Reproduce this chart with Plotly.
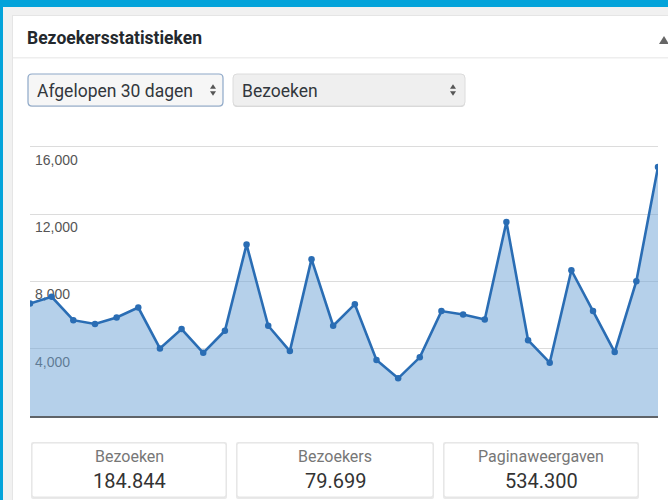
import plotly.graph_objects as go

# ---- data ----
days = list(range(1, 31))
bezoeken = [6690, 7090, 5700, 5470, 5860, 6450, 4020, 5170, 3760, 5070,
            10200, 5370, 3860, 9330, 5370, 6650, 3330, 2240, 3490, 6240,
            6040, 5740, 11540, 4510, 3170, 8670, 6240, 3800, 8020, 14810]
tick_vals = [4000, 8000, 12000, 16000]
tick_text = ["4,000", "8,000", "12,000", "16,000"]
stat_labels = ["Bezoeken", "Bezoekers", "Paginaweergaven"]
stat_values = ["184.844", "79.699", "534.300"]
title_text = "Bezoekersstatistieken"
period_text = "Afgelopen 30 dagen"
metric_text = "Bezoeken"

W, H = 668, 500
Y_MAX = 16100


def X(px):
    return px / W


def Y(py):
    return 1 - py / H


def rect(x0, y0, x1, y1, fill, line=None, lw=0):
    return dict(type="rect", xref="paper", yref="paper",
                x0=X(x0), x1=X(x1), y0=Y(y1), y1=Y(y0),
                fillcolor=fill, line=dict(color=line or fill, width=lw),
                layer="below")


def rrect(x0, y0, x1, y1, r, fill, line, lw=1):
    pts = (f"M{X(x0 + r)},{Y(y0)} L{X(x1 - r)},{Y(y0)} Q{X(x1)},{Y(y0)} {X(x1)},{Y(y0 + r)} "
           f"L{X(x1)},{Y(y1 - r)} Q{X(x1)},{Y(y1)} {X(x1 - r)},{Y(y1)} "
           f"L{X(x0 + r)},{Y(y1)} Q{X(x0)},{Y(y1)} {X(x0)},{Y(y1 - r)} "
           f"L{X(x0)},{Y(y0 + r)} Q{X(x0)},{Y(y0)} {X(x0 + r)},{Y(y0)} Z")
    return dict(type="path", xref="paper", yref="paper", path=pts,
                fillcolor=fill, line=dict(color=line, width=lw), layer="below")


def tri(cx, cy, w, h, up, color):
    if up:
        p = f"M{X(cx - w/2)},{Y(cy + h/2)} L{X(cx + w/2)},{Y(cy + h/2)} L{X(cx)},{Y(cy - h/2)} Z"
    else:
        p = f"M{X(cx - w/2)},{Y(cy - h/2)} L{X(cx + w/2)},{Y(cy - h/2)} L{X(cx)},{Y(cy + h/2)} Z"
    return dict(type="path", xref="paper", yref="paper", path=p,
                fillcolor=color, line=dict(color=color, width=0), layer="above")


def txt(x, y, s, size, color, anchor="left", bold=False, family="Roboto, Inter, sans-serif"):
    return dict(xref="paper", yref="paper", x=X(x), y=Y(y), text=f"<b>{s}</b>" if bold else s,
                showarrow=False, xanchor=anchor, yanchor="middle",
                font=dict(size=size, color=color, family=family))


BLUE = "#03a3da"
shapes = [
    rect(0, 0, W, 7, BLUE),
    rect(0, 0, 3, H, BLUE),
    rect(3, 7, W, 15, "#f1f1f1"),
    rect(3, 15, 12, H, "#f1f1f1"),
    rect(12, 15, 13, H, "#e5e5e5"),
    rect(12, 15, W, 16, "#e5e5e5"),
    rect(13, 57, W, 58.5, "#eeeeee"),
    # dropdowns
    rrect(28, 75, 223, 107, 4, "#d9dde2", "#d9dde2", 0),
    rrect(28, 74, 223, 106, 4, "#f6f6f6", "#8ea8c8", 1.2),
    rrect(233, 75, 465, 107, 4, "#d6d6d6", "#d6d6d6", 0),
    rrect(233, 74, 465, 106, 4, "#efefef", "#dcdcdc", 1),
    tri(213, 86.5, 6, 4.5, True, "#555555"),
    tri(213, 93.5, 6, 4.5, False, "#555555"),
    tri(453, 86.5, 6, 4.5, True, "#555555"),
    tri(453, 93.5, 6, 4.5, False, "#555555"),
    tri(664, 40, 10, 8, True, "#666666"),
]
annotations = [
    txt(25, 38, title_text, 17.5, "#23282d", bold=True),
    txt(35, 90.5, period_text, 17.5, "#32373c"),
    txt(240, 90.5, metric_text, 17.5, "#32373c"),
]
boxes = [(32, 226), (237, 433), (444, 638)]
for (bx0, bx1), lab, val in zip(boxes, stat_labels, stat_values):
    shapes.append(rrect(bx0 - 1, 442, bx1 + 1, 499, 2, "#e9e9e9", "#e9e9e9", 0))
    shapes.append(rrect(bx0, 443, bx1, 497, 2, "#ffffff", "#e4e4e4", 1))
    cx = (bx0 + bx1) / 2
    annotations.append(txt(cx, 456, lab, 16, "#777777", anchor="center"))
    annotations.append(txt(cx, 480.5, val, 20, "#333333", anchor="center"))

fig = go.Figure()
fig.add_trace(go.Scatter(
    x=days, y=bezoeken, mode="lines+markers", fill="tozeroy",
    fillcolor="rgba(107,161,213,0.5)", line=dict(color="#2a6db4", width=2.6),
    marker=dict(size=6.5, color="#2a6db4"), hoverinfo="skip", showlegend=False))

plot_top_px = 416 - Y_MAX * (269 / 16000)

fig.update_layout(
    width=W, height=H, margin=dict(l=0, r=0, t=0, b=0),
    paper_bgcolor="#ffffff", plot_bgcolor="#ffffff",
    shapes=shapes, annotations=annotations, showlegend=False,
    xaxis=dict(domain=[X(30), X(658)], range=[1, 30], showgrid=False, zeroline=False,
               showticklabels=False, ticks="", showline=True, linecolor="#5f6368",
               linewidth=1.5, fixedrange=True),
    yaxis=dict(domain=[Y(416), Y(plot_top_px)], range=[0, Y_MAX], tickvals=tick_vals,
               ticktext=tick_text, showgrid=True, gridcolor="#dcdcdc", gridwidth=1,
               zeroline=False, ticks="", ticklabelposition="inside",
               ticklabeloverflow="allow",
               ticklabelshift=13, ticklabelstandoff=2, layer="below traces",
               tickfont=dict(size=14, color="#555555",
                             family="Liberation Sans, Arial, sans-serif"),
               fixedrange=True),
)

fig.write_html("out.html", post_script="document.body.style.margin='0';",
               config={"displayModeBar": False})
